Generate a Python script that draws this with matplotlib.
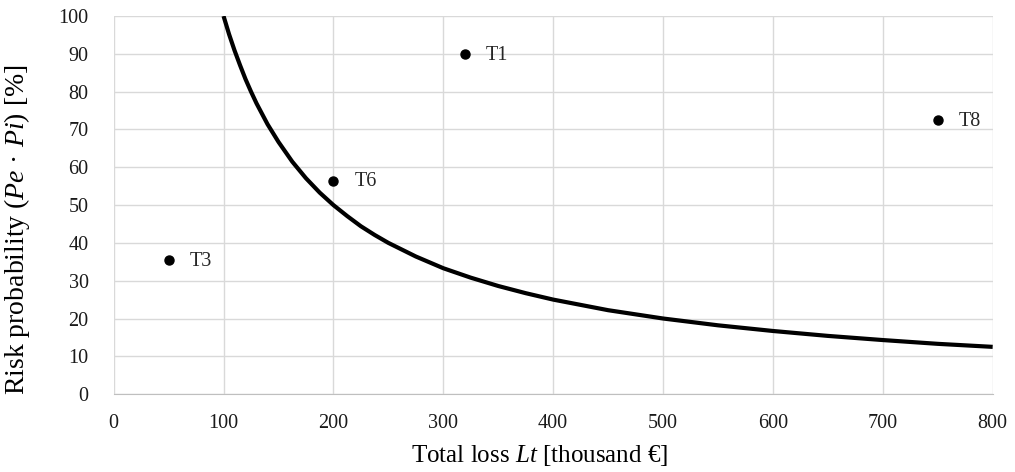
import matplotlib.pyplot as plt

plt.rcParams['font.family'] = ['Liberation Serif', 'DejaVu Serif']
plt.rcParams['mathtext.fontset'] = 'custom'
plt.rcParams['mathtext.rm'] = 'Liberation Serif'
plt.rcParams['mathtext.it'] = 'Liberation Serif:italic'

# iso-risk curve
curve_x = [100, 105, 110, 115, 120, 125, 130, 140, 150, 162.5, 175, 187.5, 200, 212.5, 225,
           237.5, 250, 275, 300, 325, 350, 375, 400, 450, 500, 550, 600, 650, 700, 750, 800]
curve_y = [100, 95.2, 90.9, 87.0, 83.3, 80, 76.9, 71.4, 66.7, 61.5, 57.1, 53.3, 50, 47.1, 44.4,
           42.1, 40, 36.4, 33.3, 30.8, 28.6, 26.7, 25, 22.2, 20, 18.2, 16.7, 15.4, 14.3, 13.3, 12.5]

# threats
labels = ['T1', 'T3', 'T6', 'T8']
loss = [320, 50, 200, 750]
prob = [90, 35.5, 56.5, 72.5]

fig = plt.figure(figsize=(10.15, 4.72), dpi=100)
ax = fig.add_axes([0.112, 0.165, 0.866, 0.801])

ax.plot(curve_x, curve_y, color='black', linewidth=3, solid_capstyle='butt', zorder=3)
ax.plot(loss, prob, 'o', color='black', markersize=6.5, zorder=4)
for lab, x, y in zip(labels, loss, prob):
    ax.annotate(lab, (x, y), textcoords='offset points', xytext=(15, -1),
                ha='left', va='center', fontsize=14.5, color='#262626')

ax.set_xlim(0, 800)
ax.set_ylim(0, 100)
ax.set_xticks(range(0, 801, 100))
ax.set_yticks(range(0, 101, 10))
ax.grid(True, color='#d9d9d9', linewidth=1)
ax.set_axisbelow(True)
for s in ['top', 'right', 'left']:
    ax.spines[s].set_visible(False)
ax.spines['bottom'].set_color('#bfbfbf')
ax.tick_params(length=0, labelsize=14.5, colors='#1a1a1a')
ax.tick_params(axis='y', pad=18)
ax.tick_params(axis='x', pad=14)

ax.set_xlabel(r'Total loss $Lt$ [thousand €]', fontsize=18)
ax.set_ylabel(r'Risk probability ($Pe$ · $Pi$) [%]', fontsize=20)
ax.xaxis.set_label_coords(0.485, -0.13)
ax.yaxis.set_label_coords(-0.093, 0.434)

fig.savefig('out.png', dpi=100, facecolor='white')
